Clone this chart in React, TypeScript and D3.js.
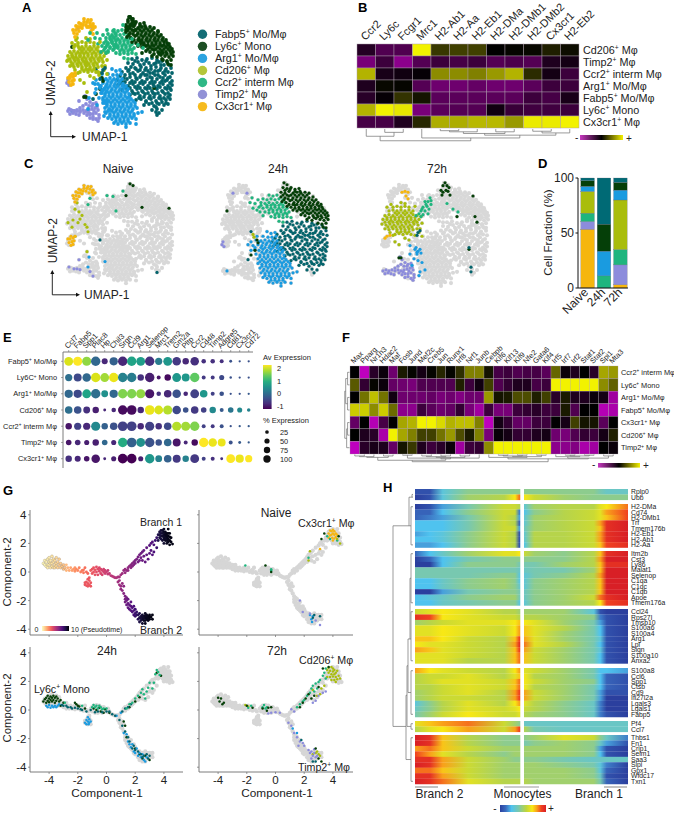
import React from "react";
import * as d3 from "d3";

// ---------- shared categories ----------
const clusterColors: Record<string, string> = {
  fabp5: "#04646c", ly6c: "#053f08", arg1: "#1a9be0", cd206: "#a9bd0c",
  ccr2: "#1fb57e", timp2: "#8c8cdc", cx3cr1: "#f6b60e",
};
const legendNames = ["Fabp5+ Mo/Mφ", "Ly6c+ Mono", "Arg1+ Mo/Mφ", "Cd206+ Mφ", "Ccr2+ interm Mφ", "Timp2+ Mφ", "Cx3cr1+ Mφ"];
const legendSwatch = ["#136d75", "#1d4f24", "#2ba3e0", "#b4c63a", "#2fb886", "#9191d6", "#f6bb1e"];

const fabp5H24 = [72,71,77,72,82,70,87,71,92,72,97,70,102,69,107,68,68,67,73,66,78,68,84,66,89,67,94,66,99,68,104,65,109,65,66,62,71,63,76,61,81,63,86,62,91,61,96,63,101,62,106,61,111,62,62,58,68,59,73,57,78,59,83,57,88,59,93,57,98,59,103,57,108,58,112,57,60,54,65,55,70,53,75,55,80,53,85,55,90,53,95,55,100,53,105,55,110,53,57,50,62,49,67,51,72,49,77,51,82,49,87,51,92,49,97,51,102,49,107,50,112,49,58,45,63,46,68,44,73,46,78,44,83,46,88,44,93,46,98,44,103,46,108,44,112,45,62,40,67,41,72,39,77,41,82,39,87,41,92,39,97,41,102,39,107,41,111,40,70,35,75,36,80,34,85,36,90,34,95,36,100,34,105,36,110,35,76,30,81,31,86,29,91,31,96,29,101,31,106,30,110,31,84,25,89,26,94,24,99,26,104,25,108,26,92,20,97,21,102,20,99,17,
  75,69,80,65,86,69,91,64,96,67,101,65,69,60,75,62,80,60,85,60,90,57,95,59,100,60,105,59,64,52,70,56,76,52,81,55,87,55,92,52,98,55,103,52,108,52,60,47,65,48,70,47,75,48,80,47,85,48,90,47,95,48,100,47,105,49,110,47,65,43,70,42,75,43,80,42,85,42,90,42,95,42,100,43,105,42,110,42,73,37,78,37,83,38,88,37,93,37,98,37,103,38,108,37,79,32,84,33,89,32,94,33,99,32,104,32,108,33,86,28,92,27,97,27,102,28,106,27];
const ly6cH24 = [69,113,72,111,68,108,72,107,76,108,80,106,84,107,66,103,70,102,74,104,78,102,82,103,86,102,90,103,94,102,66,98,70,97,74,99,78,97,82,98,86,97,90,98,94,97,98,98,67,93,71,92,75,94,79,92,83,93,87,92,91,93,95,92,99,93,103,92,72,88,76,87,80,89,84,87,88,88,92,87,96,88,100,87,104,88,107,87,78,84,82,83,86,84,90,83,94,84,98,83,102,84,106,83,110,83,86,79,90,78,94,80,98,78,102,79,106,78,110,79,113,78,92,74,97,73,101,75,105,74,109,73,113,74,103,70,107,69,111,70,108,66,111,65,
  70,105,75,106,80,104,85,104,68,100,72,100,76,100,80,100,84,100,88,100,92,100,69,95,73,96,77,95,81,95,85,95,89,95,93,95,97,95,101,95,74,90,78,90,82,90,86,90,90,90,94,90,98,90,102,90,106,90,80,86,84,85,88,85,92,85,96,86,100,85,104,85,108,85,88,81,92,81,96,81,100,81,104,81,108,81,112,81,94,76,99,76,103,77,107,76,111,76];
const arg1H24 = [52,61,56,59,60,60,42,56,48,56,53,55,57,55,61,56,36,50,41,52,46,51,50,52,54,51,58,52,62,51,33,47,38,46,43,47,47,46,51,47,55,46,59,47,63,46,36,41,40,42,44,41,48,42,52,41,56,42,60,41,64,42,68,41,41,37,45,36,49,37,53,36,57,37,61,36,65,37,69,36,43,32,47,31,51,32,55,31,59,32,63,31,67,32,71,31,43,27,47,26,51,27,55,26,59,27,63,26,67,27,71,26,75,27,45,22,49,21,53,22,57,21,61,22,65,21,69,22,73,21,77,22,46,17,50,16,54,17,58,16,62,17,66,16,70,17,74,16,78,17,48,12,52,11,56,12,60,11,64,12,68,11,72,12,76,11,54,7,58,6,62,7,66,6,70,7,82,18,76,6,66,3,
  44,50,48,49,52,49,56,49,60,49,40,44,46,44,50,44,54,44,58,44,62,44,66,44,47,39,51,39,55,39,59,39,63,39,67,39,45,34,49,34,53,34,57,34,61,34,65,34,69,33,45,29,49,29,53,29,57,29,61,29,65,29,69,29,73,29,47,24,51,24,55,24,59,24,63,24,67,24,71,24,75,24,48,19,52,19,56,19,60,19,64,19,68,19,72,19,50,14,54,14,58,14,62,14,66,14,70,14,74,14,56,9,60,9,64,9,68,9];
const ccr2H24 = [54,100,58,99,62,100,43,95,48,96,52,95,56,96,60,95,64,96,68,95,40,91,46,92,50,91,54,92,58,91,62,92,66,91,70,92,38,86,44,87,48,86,52,87,56,86,60,87,64,86,68,87,72,86,50,82,54,81,58,82,62,81,66,82,70,81,74,82,56,77,60,76,64,77,68,76,72,77,76,76,64,72,68,71,46,89,52,89,56,89,60,89,64,89,68,89,54,84,58,84,62,84,66,84,70,84,60,79,64,79,68,79,72,80,35,92,37,97,42,84,45,82,48,78];
const timp2H24 = [18,102,32,102,8,50,7,47,9,45];
const ly6cH24Stray = [12,83,42,52,43,49,40,41,36,36];
const cd206H24 = [38,58,39,55];
const fabp5H24Stray = [33,31,36,61];
const arg1H24Stray = [12,19];

const cd206H72 = [26,92,30,91,18,87,22,88,26,87,30,88,34,87,14,83,18,84,22,83,26,84,30,83,34,84,38,83,10,78,14,79,18,78,22,79,26,78,30,79,34,78,38,79,42,78,8,74,12,74,16,73,20,74,24,73,28,74,32,73,36,74,40,73,44,74,7,69,11,68,15,69,19,68,23,69,27,68,31,69,35,68,39,69,43,68,10,64,14,63,18,64,22,63,26,64,30,63,34,64,38,63,42,64,20,58,24,59,28,58,32,59,36,58,40,57,44,60,47,56,30,54,34,52,20,50,24,47,12,76,16,76,20,76,24,76,28,76,32,76,36,76,40,76,10,71,14,71,18,71,22,71,26,71,30,71,34,71,38,71,42,71,13,66,17,66,21,66,25,66,29,66,33,66,37,66,22,61,26,61,30,61,34,61,20,81,24,81,28,81,32,81,36,81,18,57,15,60,45,64,47,70,46,77,40,88,16,90,12,87];
const timp2H72 = [25,34,27,31,30,28,33,26,36,27,26,26,23,24,20,22,8,19,11,20,14,19,17,20,20,19,23,20,26,19,29,20,32,21,35,22,38,20,10,16,13,17,16,16,19,15,27,15,30,16,33,16,36,17,39,15,30,12,33,13,36,11,39,12,38,9,29,24,32,24,34,19,37,23,24,17,28,18];
const ccr2H72 = [55,97,53,93,50,93,56,90,52,88,48,87,54,85,50,83,46,83,44,80,48,79,53,80,41,78,46,77,72,91,78,85,83,82,51,90,47,85,56,94];
const ly6cH72 = [66,105,68,110,70,113,72,110,74,108,71,105,68,103,73,104,75,100,67,100,98,99,100,77,102,71,82,77,94,42,24,33,26,33];
const arg1H72 = [35,46,40,42,43,40,45,42,42,37,46,38,39,32,35,37,43,30,47,28,37,25,50,20,45,18,44,14,42,39,41,44];
const fabp5H72 = [43,60,45,62,94,44,96,23,96,18,42,57];
const cx3cr1H72 = [27,103,30,104,33,103,31,99,33,96,10,54,12,56,15,57];

const cx3cr1Naive = [15,93,14,97,16,100,18,103,21,106,24,108,27,108,30,107,32,104,33,101,19,99,22,102,26,105,29,103,17,96,20,103,23,105,24,111,28,110,31,110,33,106,35,103,13,100,16,104,19,107,10,52,13,53,9,48,12,49,15,55,13,46,11,45,8,52,11,55,14,50];
const cd206Naive = [17,92,15,85,19,82,22,78,20,74,18,70,13,73,8,70,12,65,25,68,28,60,27,65,15,55,27,38];
const ccr2Naive = [47,100,53,99,63,105,56,83,28,90,30,97];
const ly6cNaive = [70,113,73,111,66,100,82,87,109,86];
const fabp5Naive = [40,51,97,15];
const arg1Naive = [28,21,45,27,29,32];
const timp2Naive = [9,21,14,19,19,29,17,19,20,18,30,16,33,11];

type Entry = [string, number[]];
const umapNaive: Entry[] = [["cd206", cd206Naive], ["cx3cr1", cx3cr1Naive], ["ccr2", ccr2Naive], ["ly6c", ly6cNaive], ["fabp5", fabp5Naive], ["arg1", arg1Naive], ["timp2", timp2Naive]];
const umap24: Entry[] = [["ccr2", ccr2H24], ["fabp5", fabp5H24], ["ly6c", ly6cH24], ["arg1", arg1H24], ["timp2", timp2H24], ["ly6c", ly6cH24Stray], ["cd206", cd206H24], ["fabp5", fabp5H24Stray], ["arg1", arg1H24Stray]];
const umap72: Entry[] = [["cd206", cd206H72], ["timp2", timp2H72], ["ccr2", ccr2H72], ["ly6c", ly6cH72], ["arg1", arg1H72], ["fabp5", fabp5H72], ["cx3cr1", cx3cr1H72]];

// ---------- panel B ----------
const bGenes = ["Ccr2", "Ly6c", "Fcgr1", "Mrc1", "H2-Ab1", "H2-Aa", "H2-Eb1", "H2-DMa", "H2-DMb1", "H2-DMb2", "Cx3cr1", "H2-Eb2"];
const bRows = ["Cd206+ Mφ", "Timp2+ Mφ", "Ccr2+ interm Mφ", "Arg1+ Mo/Mφ", "Fabp5+ Mo/Mφ", "Ly6c+ Mono", "Cx3cr1+ Mφ"];
const bValues = [
  [-.18,-.4,-.4,.95,.22,.25,.25,0,.02,.03,.12,.05],
  [-.6,-.3,-.7,-.42,-.3,-.35,-.3,-.42,-.38,-.42,-.15,-.1],
  [.7,-.12,-.08,-.03,.55,.55,.5,.6,.7,.17,-.1,-.3],
  [-.15,.03,.02,-.42,-.55,-.55,-.5,-.55,-.55,-.45,-.3,-.3],
  [-.2,-.03,.2,.08,-.45,-.45,-.45,-.45,-.45,-.3,-.35,-.12],
  [.7,.95,.9,-.6,-.45,-.42,-.42,-.08,-.28,-.32,-.32,-.3],
  [-.35,-.35,-.15,.15,.68,.68,.72,.72,.6,.92,.92,.95],
];
const bTree = [[1.5,2.5,6,0,0],[.5,2,13,0,6],[4.5,5.5,3,0,0],[5,6.5,5,3,0],[7.5,8.5,5,0,0],[5.75,8,8,5,5],[9.5,10.5,4,0,0],[10,11.5,7,4,0],[6.9,10.75,11,8,7],[3.5,8.8,16,0,11],[1.25,6.15,21,13,16]];

// ---------- panel D ----------
const dConditions = ["Naive", "24h", "72h"];
const dOrder = ["cx3cr1", "timp2", "ccr2", "cd206", "arg1", "ly6c", "fabp5"];
const dNaive = [53.4, 7, 7.6, 19.8, 4.6, 5.2, 2.4];
const d24 = [0, 0, 11, 0, 22.5, 24.5, 42];
const d72 = [3, 18, 14, 45, 9, 7, 4];

// ---------- panel E ----------
const eGenes = ["Ccl7","Fabp5","Spp1","Plac8","Hp","Chil3","Srgn","Ccl9","Arg1","Selenop","Mrc1","Trem2","Gm2a","Pltp","Ccr2","Cd48","Timp2","Adgre5","Cd81","Cx3cr1","Cd72"];
const eRows = ["Fabp5+ Mo/Mφ","Ly6C+ Mono","Arg1+ Mo/Mφ","Cd206+ Mφ","Ccr2+ interm Mφ","Timp2+ Mφ","Cx3cr1+ Mφ"];
const eExpr = [
  [2.0,2.2,1.6,-.2,-1,-.3,-1,.7,.6,-.9,.1,.5,-.8,-1,-.9,-.9,-.9,-.9,-.5,-.5,-.5],
  [-.1,-.6,-.2,2.0,1.7,2.1,.2,.1,-.9,-1.1,-1.2,-1.3,.5,.5,1.3,-.8,-.8,-.6,-.5,-.5,-.5],
  [-.2,-.6,.7,-.1,.4,-.2,1.5,1.5,1.6,-1.2,-.9,-1,-.5,-1,-.7,.5,-.7,-.5,-.5,-.5,-.4],
  [-.1,-.5,-.9,-1.1,-1,-1,-1.3,-1.3,-1,2.1,2,1.8,-.6,-.5,-.8,-.7,.3,-.4,0,.3,.2],
  [-1.2,-.7,-1,.3,-.3,-.5,-.7,-.7,-1,-.7,-.9,-.6,1.8,1.7,1.5,-.7,-.8,-.5,-.5,-.4,-.4],
  [-1.2,-1,-1.1,-1.1,-.2,-1,.8,-.3,.4,-.5,-.5,-.2,-1.2,-1,-1.3,2.2,2.1,2.1,-.5,-.4,-.4],
  [-.9,-1,-1.2,-1.2,-1,-1.1,-1.4,-1.4,-1.1,.5,.2,-.3,-.8,.2,-.8,-.7,-.9,-.9,2.2,2.1,2.2],
];
const ePct = [
  [75,80,80,85,35,65,85,85,75,85,50,75,70,40,70,20,20,15,8,5,5],
  [50,60,70,85,75,85,85,85,40,85,15,40,75,60,85,15,15,25,6,5,5],
  [65,65,75,85,45,65,85,85,80,80,20,55,70,20,75,55,15,20,5,5,5],
  [55,55,45,40,8,20,85,90,40,90,75,80,70,30,55,30,40,15,30,25,12],
  [40,50,50,80,40,55,90,90,40,80,40,55,80,80,85,15,15,15,5,5,5],
  [30,30,25,40,30,25,85,90,75,85,40,55,60,15,40,85,70,60,15,8,5],
  [40,35,30,70,8,25,90,90,25,85,45,55,60,40,75,15,15,8,75,65,50],
];
const eSizeLegend = [25, 50, 75, 100];
const eColorTicks = [2, 1, 0, -1];

// ---------- panel F ----------
const fGenes = ["Max","Pparg","Nr1h3","Hdac2","Maf","Fosb","Jund","Mef2c","Creb5","Jun","Runx1","Irf8","Nrf1","Junb","Cebpb","Klf6","Klf13","Klf9","Nfe2","Gata6","Klf4","Irf5","Irf7","Irf2","Stat1","Stat2","Spi1","Mta3"];
const fRows = ["Ccr2+ interm Mφ","Ly6c+ Mono","Arg1+ Mo/Mφ","Fabp5+ Mo/Mφ","Cx3cr1+ Mφ","Cd206+ Mφ","Timp2+ Mφ"];
const fValues = [
  [0,-.95,-.2,-.05,-.55,.1,.02,-.1,.02,.15,.02,.18,.5,.5,.08,-.35,-.3,-.4,-.35,-.35,-.45,.4,-.05,-.15,0,-.2,.65,.6],
  [.35,-.25,.02,-.05,-.5,-.55,-.6,-.4,-.4,-.4,-.4,.12,-.3,-.08,.25,-.4,-.25,-.15,-.15,-.35,-.3,.95,.95,.95,.95,.95,.55,.38],
  [0,.45,.75,.45,-.08,-.55,-.55,-.55,-.5,-.6,-.55,-.65,-.55,-.55,.6,.08,.1,.3,.3,.12,.25,-.2,.1,-.15,-.15,-.05,-.1,-.8],
  [.8,.8,.55,.8,.42,-.7,-.7,-.3,-.45,-.55,-.5,-.25,-.6,-.8,-.3,-.6,-.6,-.3,-.25,-.2,-.3,-.3,.1,-.4,0,0,-.9,-.85],
  [-.5,0,-.9,-.35,0,.65,.7,.95,.95,.85,.7,.75,.75,.5,-.95,-.1,-.25,-.5,-.5,-.3,-.3,0,-.1,.25,.08,.08,-.45,0],
  [0,-.15,-.2,-.85,.95,.65,.5,.25,.25,.45,.6,.3,.1,.5,-.6,-.03,-.1,-.25,-.25,-.15,-.1,-.55,-.6,-.4,-.25,-.3,-.1,.12],
  [-.95,-.2,-.12,-.15,-.5,.08,.22,-.15,-.3,-.2,-.05,-.8,-.3,-.25,.55,.95,.95,.95,.95,.95,.95,-.7,-.7,-.65,-.85,-.8,0,-.05],
];
const fTopTree = [[.5,1.5,2,0,0],[1,2.5,3,2,0],[3.5,4.5,2,0,0],[1.75,4,4,3,2],[5.5,6.5,1,0,0],[7.5,8.5,2,0,0],[9.5,10.5,2,0,0],[8,10,3,2,2],[11.5,12.5,2,0,0],[9,12,4,3,2],[6,13.5,5,1,0],[9.5,10.5,6,5,4],[2.9,10,8,4,6],[15.5,16.5,1,0,0],[17.5,18.5,1,0,0],[19.5,20.5,1,0,0],[16,18,2,1,1],[17,20,3,2,1],[14.5,18.5,4,0,3],[22.5,23.5,1,0,0],[24.5,25.5,1,0,0],[23,25,2,1,1],[21.5,24,3,0,2],[26.5,27.5,2,0,0],[22.75,27,5,3,2],[16.5,24.9,6,4,5],[6.5,20.7,10,8,6]];
const fLeftTree = [[2.5,3.5,2,0,0],[4.5,5.5,2,0,0],[5,6.5,3,2,0],[.5,1.5,2,0,0],[1,3,4,2,2],[2,5.75,5,4,3]];

// ---------- panel G ----------
const trajLeft = [-4.4,.6,.2,-4.3,.5,.2,-4.3,.8,.3,-4.2,.4,.3,-4.2,.7,.3,-4.1,.9,.4,-4.1,.5,.4,-4.1,.3,.4,-4,.7,.4,-4,.5,.4,-4,1,.4,-3.9,.3,.5,-3.9,.6,.5,-3.9,.8,.5,-3.8,1.1,.5,-3.8,.4,.6,-3.8,.6,.6,-3.7,.9,.6,-3.7,.7,.6,-3.7,.3,.6,-3.6,.5,.7,-3.6,.8,.7,-3.6,.3,.7,-3.5,.6,.8,-3.5,.4,.8,-3.5,1,.8,-3.4,.7,.9,-3.4,.3,.9,-3.3,.5,1,-3.3,.9,1,-3.2,.3,1.1,-3.2,.6,1.1,-3.1,.4,1.2,-3,.2,1.3,-3,.5,1.3,-2.9,.3,1.4,-2.8,.5,1.5,-2.8,.1,1.6,-2.7,.3,1.7,-2.6,.1,1.8];
const trajTrail = [-2.5,.3,2,-2.4,.1,2.1,-2.3,.2,2.2,-2.2,.3,2.3,-2.2,.05,2.4,-2.1,.2,2.5,-2,.1,2.6,-1.9,.3,2.7,-1.8,0,2.8,-1.7,.1,2.9,-1.6,-.05,3,-1.6,.15,3,-1.5,.3,3.1,-1.4,0,3.2,-1.3,-.1,3.3];
const trajMid = [-1.1,.1,3.6,-1,-.1,3.7,-1,.2,3.7,-.9,.3,3.8,-.9,0,3.8,-.8,-.2,3.9,-.8,.15,3.9,-.7,.35,4,-.7,0,4,-.6,.2,4.1,-.6,-.2,4.1,-.5,.05,4.2,-.5,.3,4.2,-.4,-.1,4.3,-.4,.2,4.3,-.3,.1,4.4,-.3,-.2,4.4,-.2,0,4.5,-.2,.2,4.5,-.1,-.1,4.6,-.1,.1,4.6,0,0,4.7,.1,-.15,4.8,.2,-.1,4.9,.1,.1,4.8];
const trajTriangle = [-1.5,-.9,3.7,-1.4,-.7,3.7,-1.4,-.95,3.7,-1.3,-.5,3.7,-1.3,-.8,3.7,-1.3,-1,3.7,-1.2,-.6,3.7,-1.2,-.9,3.7,-1.1,-.75,3.7,-1.1,-1,3.7,-1.2,-.4,3.7,-1.5,-.75,3.7];
const trajJunction = [.3,-.25,5,.4,-.3,5.1,.5,-.35,5.2,.6,-.4,5.3,.7,-.4,5.4,.8,-.35,5.5,.9,-.35,5.6];
const trajBranch1 = [1,-.2,5.7,1.1,-.1,5.8,1.2,.1,5.9,1.3,-.05,5.9,1.3,.2,6,1.4,.1,6,1.5,.3,6.1,1.5,.1,6.1,1.6,.4,6.2,1.7,.3,6.2,1.7,.5,6.3,1.8,.6,6.4,1.8,.4,6.4,1.9,.7,6.5,1.9,.5,6.5,2,.8,6.6,2,.6,6.6,2.1,.9,6.7,2.2,1.05,6.8,2.2,.7,6.8,2.3,1.2,6.9,2.3,.8,6.9,2.4,1,7,2.4,1.3,7,2.5,1.4,7.1,2.5,.8,7.1,2.6,1.1,7.2,2.6,1.5,7.2,2.7,.7,7.3,2.8,1.7,7.4,2.8,1.2,7.4,2.9,.9,7.5,3,1.85,7.6,3,1.3,7.6,3.1,2,7.7,3.1,1.5,7.7,3.2,2.1,7.8,3.2,1.2,7.8,3.3,1.4,7.9,3.3,1.9,8,3.4,2.2,8.3,3.5,2.4,8.5,3.5,1.7,8.4,3.6,2.6,9,3.6,2.2,9,3.7,2.8,9.2,3.7,2.4,9.2,3.8,2.7,9.3,3.8,2.5,9.3,3.8,2.9,9.4,3.9,2.2,9.4,3.9,2.5,9.5,3.9,2.9,9.5,4,2,9.5,4,2.3,9.6,4,2.6,9.6,4,3,9.7,4.1,2.2,9.7,4.1,2.5,9.7,4.1,2.8,9.8,4.2,2,9.8,4.2,2.4,9.8,4.2,2.7,9.9,4.3,2.1,9.9,4.3,2.5,9.9,4.3,3,10,4.4,2.2,10,4.4,1.9,10,4.5,2.1,10,4.6,1.95,10,4.5,2.4,10,4.4,2.7,10,3.7,2.6,9.2,3.8,2.3,9.3,3.9,2.7,9.5,4,2.45,9.6,4,2.8,9.7,4.1,2.35,9.7,4.1,2.65,9.8,4.2,2.2,9.8,4.2,2.55,9.9,4.3,2.3,9.9,4.3,2.7,10,4.4,2.45,10];
const trajBranch2 = [.8,-.7,5.7,.9,-.9,5.8,.9,-.6,5.8,1,-1,5.9,1,-1.2,6,1.1,-.8,6,1.1,-1.3,6.2,1.2,-1.5,6.4,1.2,-1,6.3,1.3,-1.7,6.6,1.3,-1.9,6.7,1.3,-2.1,6.8,1.4,-1.8,6.8,1.4,-2,7,1.4,-2.3,7.1,1.5,-2.2,7.2,1.5,-1.9,7.2,1.5,-2.5,7.3,1.6,-2.3,7.4,1.6,-2.6,7.5,1.7,-2.1,7.5,1.7,-2.4,7.6,1.7,-2.7,7.7,1.8,-2.5,7.8,1.8,-2.8,7.9,1.9,-2.4,7.9,1.9,-2.7,8,1.9,-3,8.1,2,-2.6,8.2,2,-2.9,8.3,2,-3.1,8.4,2.1,-2.8,8.5,2.1,-3,8.6,2.2,-3,8.7,2.2,-3.3,8.8,2.3,-2.9,8.9,2.3,-3.2,9,2.3,-3.5,9.1,2.4,-3.1,9.2,2.4,-3.4,9.3,2.5,-3,9.4,2.5,-3.3,9.5,2.5,-3.6,9.5,2.6,-3.1,9.6,2.6,-3.4,9.6,2.7,-2.9,9.7,2.7,-3.2,9.7,2.7,-3.6,9.8,2.8,-3,9.8,2.8,-3.3,9.8,2.9,-3.1,9.9,2.9,-3.4,9.9,3,-3,10,3,-3.3,10,3.1,-3.15,10,3.2,-3,10,3.2,-3.3,10,2.4,-3.25,9.3,2.5,-3.15,9.5,2.6,-3.25,9.6,2.7,-3.05,9.7,2.7,-3.4,9.8,2.8,-3.15,9.8,2.9,-3.25,9.9,3,-3.15,10];
const trajAll = [trajLeft, trajTrail, trajMid, trajTriangle, trajJunction, trajBranch1, trajBranch2];

const gNaive: Entry[] = [
  ["cx3cr1", [3.7,2.7,3.8,2.9,3.9,2.6,3.9,2.85,4,2.7,4,2.95,4.1,2.6,4.1,2.85,4.2,2.7,4.2,2.45,3.95,2.4,4.1,2.35,4.3,2.6,3.7,2.4,3.8,2.55,4,2.2,3.1,1.6]],
  ["ccr2", [3.6,2.5,3.8,2.3,4.3,2.2,-2.1,.45,2.3,1,-.3,.1,-.3,.2]],
  ["ly6c", [-.7,.45,3.4,2.7,3.2,2.3,4.4,2.5,-.3,0]],
  ["arg1", [2.4,-3,2.5,-3.3,2.6,-3.1,2.55,-3.5]],
  ["timp2", [1.7,-2,1.9,-2.8,2.8,-3.4,3.1,-3.7,2.4,-2.9]],
  ["cd206", [2.4,1.45,2.3,.8,4.5,2,4.3,2.3]],
  ["fabp5", [2.6,-3.2,2.7,-3,3.1,-3.1]],
];
const g24: Entry[] = [
  ["ly6c", [-4.4,.6,-4.3,.75,-4.2,.5,-4.2,.85,-4.1,.65,-4.1,1,-4,.55,-4,.8,-3.9,.95,-3.9,.7,-3.8,.6,-3.8,.85,-3.7,1,-3.7,.7,-3.6,.5,-3.6,.85,-3.5,.65,-3.5,.95,-3.4,.8,-3.3,.6,-3.2,.7,-3,.5,-2.2,.5,-2.1,.4,-2,.3,-1.9,.25,-1.5,.1,-.9,.1,-.7,0,-.5,.15,-.4,-.1,-.2,-.2,-.1,.05,.2,-.2,1.2,-.8,1.3,-1.1,1.4,-1.9,2,-2.7,2.3,-3.1,2.5,-3.4,2.7,-3.2,3,-3.5,1.6,.2,2,.6,2.3,.9,3.5,2.6,3.8,2.4,-3.2,.3]],
  ["arg1", [-4.2,.3,-4.1,.2,-4,.35,-3.9,.15,-3.8,.3,-3.7,.2,-3.6,.3,-3.5,.2,-3.4,.3,-3.3,.4,-1.5,-.9,-1.4,-.7,-1.4,-1,-1.3,-.5,-1.3,-.8,-1.25,-1,-1.2,-.65,-1.2,-.9,-1.1,-.8,1.2,-1.6,1.4,-1.7,1.5,-2.2,1.6,-2.4,1.7,-2.6,1.8,-2.4,1.9,-2.9,2,-3,2.1,-2.7,2.2,-3.2,2.3,-3,2.4,-3.3,2.5,-3.1,2.6,-3.5,2.7,-3.6,2.8,-3.3,1,-.2,.7,-.4]],
  ["fabp5", [-3.1,.35,-3,.3,-2.8,.3,-2.7,.2,-2.5,.2,-2.4,.1,-2.2,.15,-2,.1,-1.8,.05,-1.7,0,-1.4,-.1,-1.1,0,-.8,-.15,-.6,-.1,-.3,-.15,0,-.1,.2,-.1,.4,-.3,.6,-.4,.9,-.7,1.1,-1.1,1.3,-1.5,1.5,-1.9,1.6,-2.2,1.8,-2.7,1.9,-2.5,2,-2.8,2.2,-2.9,2.4,-3.1,2.5,-3.3,2.6,-3.2,2.8,-3.1,2.9,-3.4,3,-3.2,1.1,-.1,1.3,.1,1.5,.2,1.7,.4]],
  ["ccr2", [-1,.2,-.9,.35,-.8,.2,-.7,.3,-.6,.1,-.5,.3,-.4,.2,-.3,.05,-.2,.1,0,.1,1.4,.1,1.6,.4,1.8,.5,2,.8,2.2,1,2.4,1.2,2.5,1.45,2.6,1.1,2.7,.8,2.8,1.3,2.9,1.55,3,1.9,3.2,1.5,3.4,2.5,3.5,2.8,3.6,2.65,3.7,2.45,3.3,1.9,-1.7,.3,-2.9,.5]],
];
const g72: Entry[] = [
  ["cd206", [3.6,2.8,3.7,2.6,3.7,2.95,3.8,2.3,3.8,2.75,3.9,2.5,3.9,3,3.9,2.1,4,2.7,4,2.35,4,2.9,4.1,2.5,4.1,2.1,4.1,2.8,4.2,2.3,4.2,2.6,4.2,1.95,4.3,2.75,4.3,2.15,4.4,2.4,4.5,2.2,3.6,2.3,3.4,1.7,3.2,1.5,3.1,1.1,2.9,1,2.6,1.4,-2.1,.35,-1.9,.25,2.6,-3.1,2.8,-3,2.9,-2.9,3,-3.1,3.1,-3.2]],
  ["ccr2", [2,.7,2.2,1,2.4,1.2,2.5,1.5,2.6,1.7,2.7,1.3,2.8,1.85,2.9,1.5,3,1.95,3.1,2.1,3.3,2.4,3.4,2.6,3.5,2.9,3.5,2.2,-1.9,.15,-1.7,.3,-.9,.2,-.8,.35,-.7,.1,-.6,.2,1.5,.2,1.7,.4,1.9,.6]],
  ["timp2", [1.1,.05,1.3,-.1,.9,-.9,1.1,-1.1,1.3,-1.6,1.5,-1.9,1.7,-2.2,1.6,-2.5,1.9,-2.3,2,-2.5,2.3,-2.8,2.4,-3,2.5,-2.9,2.6,-3.2,2.7,-3,2.8,-3.3,2.5,-3.4,2.9,-3.2,2.7,-2.75,-.3,-.2,0,-.15,-.5,-.25,.3,-.2,2.6,.5,2.8,.65,3,1,3.3,1.2,3.5,1.3]],
  ["ly6c", [-4,.85,-3.9,.6,-3.8,.8,-3.6,.5,-3.7,.4,-2,.3,-1.6,.15,-.9,.1,-.6,-.05,-.5,.15,-.3,.2,1.7,.2,1.9,.5,2.1,.8,2.3,1.1,2.5,.8,2.7,1,3,1.6,3.2,-3.6,3,-3.4,2.8,-2.7,3.3,2.9,3.7,3]],
  ["fabp5", [1.8,-2.1,2.6,-3.6,2.8,-3.6]],
  ["arg1", [1.2,-1.3,1.5,-1.6]],
];
const gYTicks = [-4, -2, 0, 2, 4];
const gXTicks = [-4, -2, 0, 2, 4];

// ---------- panel H: smoothed expression along pseudotime, in tenths ----------
const hStops = [0,.07,.13,.25,.42,.47,.49,.51,.56,.70,.84,.87,.90,1];
const hBlocks: [number, string[], number[][]][] = [
  [489, ["Rplp0","Ubb"], [
    [-9,-9,-4,-1,-1,-1,-1,-1,-1,-1,-1,-2,-3,-3],
    [-10,-9,-4,0,1,4,7,4,2,0,-1,-1,-1,-1]]],
  [504, ["H2-DMa","Cd74","H2-DMb1","Trf","Tmem176b","H2-Eb1","H2-Ab1","H2-Aa"], [
    [-10,-9,-6,-2,2,2,1,-4,0,1,1,3,4,7],
    [-8,-8,-5,-1,2,2,-7,-5,-1,1,2,3,6,8],
    [-8,-7,-6,-2,2,1,-6,-4,0,1,2,3,5,8],
    [-5,-5,-5,-2,2,1,-8,-4,0,1,2,6,9,10],
    [-5,-5,-5,-2,2,2,-6,-3,0,1,2,5,9,10],
    [-6,-5,-4,-1,2,1,-9,-4,1,1,2,6,9,10],
    [-5,-5,-4,-1,2,1,-9,-4,1,1,2,6,9,10],
    [-6,-6,-5,-1,2,1,-9,-5,1,1,2,5,8,9]]],
  [551, ["Itm2b","Cst3","Ly86","Malat1","Selenop","C1qa","C1qc","C1qb","Apoe","Tmem176a"], [
    [-8,-5,-3,0,3,3,4,2,0,-1,1,5,9,10],
    [-10,-8,-5,-2,-1,-1,-1,-1,-1,-1,1,6,10,10],
    [-10,-10,-5,-1,-1,-1,-2,-2,-2,0,1,5,9,9],
    [-2,-2,-2,-2,-2,-2,-3,-3,-2,-2,0,5,10,10],
    [-2,-2,-2,-2,-1,-1,-4,-4,-2,-1,1,6,10,10],
    [-5,-5,-3,-1,0,-1,-4,-4,-1,0,1,5,10,10],
    [-5,-5,-3,-1,0,-1,-3,-4,-1,0,1,5,10,10],
    [-10,-10,-6,-2,-1,-1,-2,-3,-1,0,1,5,10,10],
    [-5,-4,-3,-1,0,0,-2,-3,-1,0,2,7,9,10],
    [-5,-5,-3,-2,-1,-1,-4,-4,-1,0,1,4,8,9]]],
  [609, ["Ccl24","Rps27l","Tmsb10","S100a6","S100a4","Arg1","Lpl","Sign","S100a10","Anxa2"], [
    [2,3,4,3,1,1,0,0,0,0,-4,-9,-10,-10],
    [9,8,4,3,2,2,1,1,1,0,-1,-7,-9,-10],
    [0,1,2,3,3,4,5,4,3,0,-2,-6,-9,-10],
    [3,3,4,3,2,4,6,5,3,1,-2,-5,-9,-10],
    [3,3,4,3,2,4,6,5,3,0,-2,-5,-9,-10],
    [5,5,4,2,1,5,8,6,3,0,-2,-4,-9,-10],
    [4,3,3,2,1,6,9,7,3,1,-2,-5,-9,-10],
    [6,5,3,2,1,5,8,6,2,0,-2,-4,-9,-10],
    [3,3,3,2,1,5,7,5,2,0,-2,-5,-9,-10],
    [3,3,3,1,1,5,7,5,2,0,-2,-5,-9,-10]]],
  [668, ["S100a8","Ccl6","Spp1","Ctsb","Cd9","Ifi27l2a","Lgals3","Lgals1","Fabp5"], [
    [6,4,3,2,1,4,6,3,2,0,-2,-5,-5,-6],
    [1,2,2,3,1,3,5,4,1,0,-2,-5,-8,-9],
    [1,2,3,3,2,5,7,4,2,0,-1,-5,-8,-9],
    [1,1,2,3,2,5,7,4,1,0,-2,-5,-8,-9],
    [0,1,2,3,1,6,8,6,2,0,-2,-6,-9,-9],
    [0,1,2,2,1,6,8,6,2,0,-2,-6,-10,-10],
    [-4,-1,1,3,1,4,6,3,1,-1,-3,-7,-10,-10],
    [-3,-1,1,3,2,3,4,2,1,-1,-3,-7,-10,-10],
    [-2,0,2,4,2,2,3,1,0,-1,-3,-7,-9,-10]]],
  [721, ["Pf4","Ccl7"], [
    [3,5,6,7,2,0,-1,-3,-3,-3,-3,-3,-3,-3],
    [1,3,4,6,2,6,8,1,-2,-3,-3,-3,-3,-3]]],
  [735, ["Thbs1","Fn1","Crip1","Selm1","Saa3","Slpi","Gpx1","Wfdc17","Txn1"], [
    [10,9,5,1,-1,-1,-1,-1,0,3,2,-1,-3,-7],
    [10,9,5,1,-1,-1,-1,-2,-1,0,-1,-3,-6,-9],
    [6,7,5,2,0,0,0,0,0,0,-1,-6,-9,-10],
    [8,6,3,1,-1,0,0,0,0,0,-1,-5,-9,-10],
    [9,9,6,2,0,-1,-1,-1,-1,-2,-3,-3,-3,-3],
    [10,9,6,2,0,0,0,0,0,-1,-2,-4,-7,-10],
    [7,7,5,2,0,0,0,0,0,0,-1,-4,-8,-10],
    [9,9,6,2,0,0,0,0,0,0,-1,-3,-9,-10],
    [10,9,7,3,1,1,1,1,0,0,0,-2,-8,-10]]],
];
const hTree = [[0.5,1,1,0,0],[2,9,2,0,0],[10,19,2,0,0],[20,29,2,0,0],[30,38,2,0,0],[39,40,2,0,0],[41,49,2,0,0],[1,5.5,4,1,2],[14.5,25,3,2,2],[25,34,5,3,2],[29.5,39.5,6,5,2],[34.5,45,7,6,2],[5.5,39.5,20,4,7]];

// ---------- scales and helpers ----------
const heat = d3.scaleLinear<string>().domain([-1, 0, 1]).range(["#c800c8", "#000000", "#ffff00"]);
const jet = d3.scaleLinear<string>()
  .domain([-10, -7.5, -5, -2, 1.5, 4, 6, 8, 10])
  .range(["#2b3f9e", "#3a6cc0", "#4fc3ef", "#78c8b0", "#c0d63a", "#f8e815", "#f9a01a", "#f04020", "#d81f26"]);
const viridis = d3.scaleSequential(d3.interpolateViridis).domain([-1.4, 2.2]);
const FONT = "'Liberation Sans', Arial, sans-serif";
const INK = "#222";
const AXIS = "#6e6e6e";

function chunk(flat: number[], n: number) {
  const out: number[][] = [];
  for (let i = 0; i + n <= flat.length; i += n) out.push(flat.slice(i, i + n));
  return out;
}

function Sup({ text, x, y, size, anchor, transform, fill = INK }: any) {
  const parts = text.split("+");
  const common: any = { x, y, fontSize: size, fontFamily: FONT, fill, textAnchor: anchor, transform };
  if (parts.length < 2) return <text {...common}>{text}</text>;
  return (
    <text {...common}>
      {parts[0]}
      <tspan dy={-size * 0.35} fontSize={size * 0.62}>+</tspan>
      <tspan dy={size * 0.35}>{parts[1]}</tspan>
    </text>
  );
}

function T({ x, y, size, children, anchor, bold, rotate, fill = INK }: any) {
  return (
    <text x={x} y={y} fontSize={size} fontFamily={FONT} fill={fill} textAnchor={anchor}
      fontWeight={bold ? 700 : 400} transform={rotate ? `rotate(${rotate} ${x} ${y})` : undefined}>
      {children}
    </text>
  );
}

function Heatmap({ x0, x1, y0, y1, values, colLabels, rowLabels, colSize, rowSize, rowX, labelY, gridW }: any) {
  const xs = d3.scaleBand<number>().domain(d3.range(colLabels.length)).range([x0, x1]);
  const ys = d3.scaleBand<number>().domain(d3.range(rowLabels.length)).range([y0, y1]);
  return (
    <g>
      {values.map((row: number[], r: number) => row.map((v, c) => (
        <rect key={`${r}-${c}`} x={xs(c)} y={ys(r)} width={xs.bandwidth()} height={ys.bandwidth()}
          fill={heat(v)} stroke="#a89aa8" strokeWidth={gridW} />
      )))}
      {colLabels.map((g: string, c: number) => {
        const x = xs(c)! + xs.bandwidth() * 0.5 - 1;
        return <T key={g} x={x} y={labelY} size={colSize} rotate={-45}>{g}</T>;
      })}
      {rowLabels.map((g: string, r: number) => (
        <Sup key={g} text={g} x={rowX} y={ys(r)! + ys.bandwidth() * 0.5 + rowSize * 0.36} size={rowSize} />
      ))}
    </g>
  );
}

function Tree({ links, pos, depth }: { links: number[][]; pos: (v: number) => number[]; depth: (d: number) => number }) {
  const p = d3.path();
  links.forEach(([a, b, h, ha, hb]) => {
    const [xa, ya] = pos(a);
    const [xb, yb] = pos(b);
    const horizontal = ya === yb;
    if (horizontal) {
      p.moveTo(xa, depth(ha)); p.lineTo(xa, depth(h)); p.lineTo(xb, depth(h)); p.lineTo(xb, depth(hb));
    } else {
      p.moveTo(depth(ha), ya); p.lineTo(depth(h), ya); p.lineTo(depth(h), yb); p.lineTo(depth(hb), yb);
    }
  });
  return <path d={p.toString()} fill="none" stroke="#707070" strokeWidth={0.7} />;
}

function UmapPanel({ sx, sy, entries, background, r, greyR }: any) {
  const x = d3.scaleLinear().domain([0, 120]).range(sx);
  const y = d3.scaleLinear().domain([0, 115]).range(sy);
  return (
    <g>
      {background && background.map(([, flat]: Entry, i: number) =>
        chunk(flat, 2).map(([a, b], j) => <circle key={`g${i}-${j}`} cx={x(a)} cy={y(b)} r={greyR} fill="#d8d8d8" />))}
      {entries.map(([k, flat]: Entry, i: number) =>
        chunk(flat, 2).map(([a, b], j) => <circle key={`c${i}-${j}`} cx={x(a)} cy={y(b)} r={r} fill={clusterColors[k]} />))}
    </g>
  );
}

function UmapAxes({ cx, cy, up, right, lx, ly, l2x, l2y }: any) {
  return (
    <g>
      <path d={`M${cx} ${up + 3}V${cy}H${right - 3}`} fill="none" stroke="#111" strokeWidth={0.9} />
      <path d={`M${cx} ${up}l-2 4h4z`} fill="#111" />
      <path d={`M${right} ${cy}l-4 -2v4z`} fill="#111" />
      <T x={lx} y={ly} size={12}>UMAP-1</T>
      <T x={l2x} y={l2y} size={12} anchor="middle" rotate={-90}>UMAP-2</T>
    </g>
  );
}

function TrajPanel({ x0, y0, left, bottom, right, top, xLabels, yLabels, g }: any) {
  const sx = d3.scaleLinear().domain([0, 1]).range([x0, x0 + 14.35]);
  const sy = d3.scaleLinear().domain([0, 1]).range([y0, y0 - 14.3]);
  return (
    <g>
      <path d={`M${left} ${top}V${bottom}H${right}`} fill="none" stroke={AXIS} strokeWidth={0.9} />
      {gXTicks.map((t) => <line key={t} x1={sx(t)} x2={sx(t)} y1={bottom} y2={bottom + 2} stroke={AXIS} strokeWidth={0.7} />)}
      {gYTicks.map((t) => <line key={t} x1={left - 2} x2={left} y1={sy(t)} y2={sy(t)} stroke={AXIS} strokeWidth={0.7} />)}
      {xLabels && gXTicks.map((t) => <T key={t} x={sx(t)} y={bottom + 11.5} size={11.5} anchor="middle">{t}</T>)}
      {yLabels && gYTicks.map((t) => <T key={t} x={left - 3.5} y={sy(t) + 4} size={11.5} anchor="end">{t}</T>)}
      {g(sx, sy)}
    </g>
  );
}

function grayTraj(sx: any, sy: any) {
  return trajAll.map((seg, i) => chunk(seg, 3).map(([a, b], j) => (
    <circle key={`t${i}-${j}`} cx={sx(a)} cy={sy(b)} r={2.1} fill="#d6d6d6" />
  )));
}
function overlayTraj(entries: Entry[], sx: any, sy: any) {
  return entries.map(([k, flat], i) => chunk(flat, 2).map(([a, b], j) => (
    <circle key={`o${i}-${j}`} cx={sx(a)} cy={sy(b)} r={1.25} fill={clusterColors[k]} />
  )));
}

export default function App() {
  const dX = d3.scaleBand().domain(dConditions).range([580, 628]).paddingInner(0.17).paddingOuter(0.05);
  const dY = d3.scaleLinear().domain([0, 100]).range([288, 178]);
  const dSeries = [dNaive, d24, d72];
  const eX = d3.scalePoint().domain(eGenes).range([68.7, 248.7]);
  const eY = d3.scalePoint().domain(eRows).range([361.3, 458.7]);
  const eR = d3.scaleSqrt().domain([0, 100]).range([0, 5.1]);
  const hX = d3.scaleLinear().domain([0, 1]).range([415, 628]);
  const rowH = 5.45;
  const rowYs: number[] = [];
  hBlocks.forEach(([top, names]) => names.forEach((_, i) => rowYs.push(top + (i + 0.5) * rowH)));
  const hRowPos = d3.scaleLinear().domain(d3.range(rowYs.length)).range(rowYs);
  const allUmap = [...umap24, ...umap72, ...umapNaive];

  return (
    <svg width={674} height={813} style={{ position: "absolute", left: 0, top: 0, background: "#fff" }}>
      <defs>
        {hBlocks.flatMap(([, names, vals], b) => names.map((n, i) => (
          <linearGradient key={n} id={`h${b}-${i}`} x1="0" x2="1" y1="0" y2="0">
            {hStops.map((s, k) => <stop key={k} offset={s} stopColor={jet(vals[i][k])} />)}
          </linearGradient>
        )))}
        <linearGradient id="lgHeat"><stop offset="0" stopColor="#c838c0" /><stop offset=".5" stopColor="#000" /><stop offset="1" stopColor="#f4f000" /></linearGradient>
        <linearGradient id="lgVir" x1="0" x2="0" y1="1" y2="0">
          {d3.range(0, 1.01, 0.125).map((t) => <stop key={t} offset={t} stopColor={d3.interpolateViridis(t)} />)}
        </linearGradient>
        <linearGradient id="lgPseudo">
          {d3.range(0, 1.01, 0.125).map((t) => <stop key={t} offset={t} stopColor={d3.interpolateMagma(1 - t)} />)}
        </linearGradient>
        <linearGradient id="lgJet">
          {[-10, -7.5, -5, -2, 1.5, 4, 6, 8, 10].map((v) => <stop key={v} offset={(v + 10) / 20} stopColor={jet(v)} />)}
        </linearGradient>
      </defs>

      {/* panel letters */}
      {[["A", 22, 12], ["B", 358, 12], ["C", 24, 168], ["D", 538, 168], ["E", 3, 342], ["F", 342, 342], ["G", 3, 495], ["H", 383, 492]].map(([l, x, y]) => (
        <T key={l as string} x={x} y={y} size={13} bold fill="#000">{l}</T>
      ))}

      {/* A */}
      <UmapPanel sx={[60, 180]} sy={[130, 15]} entries={allUmap} r={1.9} />
      {legendNames.map((n, i) => (
        <g key={n}>
          <circle cx={202.5} cy={34.3 + i * 12.05} r={4.7} fill={legendSwatch[i]} />
          <Sup text={n} x={215} y={34.3 + i * 12.05 + 3.7} size={10.8} />
        </g>
      ))}
      <UmapAxes cx={50.7} cy={136.7} up={111} right={76} lx={82} ly={141} l2x={55} l2y={83} />

      {/* B */}
      <Heatmap x0={357} x1={579} y0={44} y1={128} values={bValues} colLabels={bGenes} rowLabels={bRows} colSize={11} rowSize={10.8} rowX={583} labelY={41} gridW={0.45} />
      <Tree links={bTree} pos={(v) => [d3.scaleLinear().domain([0, 12]).range([357, 579])(v), 0]} depth={(d) => 129 + d * 0.56} />
      <rect x={580} y={135} width={43} height={5} fill="url(#lgHeat)" />
      <T x={575} y={141} size={10}>-</T>
      <T x={626} y={141.5} size={10}>+</T>

      {/* C */}
      <UmapPanel sx={[60, 180]} sy={[286, 182]} background={allUmap} entries={umapNaive} r={1.6} greyR={2.05} />
      <UmapPanel sx={[215, 335]} sy={[288.7, 181]} background={allUmap} entries={umap24} r={1.6} greyR={2.05} />
      <UmapPanel sx={[375, 495]} sy={[288.7, 181]} background={allUmap} entries={umap72} r={1.6} greyR={2.05} />
      <T x={118} y={173} size={12} anchor="middle">Naive</T>
      <T x={278} y={173} size={12} anchor="middle">24h</T>
      <T x={437} y={173} size={12} anchor="middle">72h</T>
      <UmapAxes cx={52.3} cy={294.8} up={270} right={80} lx={84} ly={299} l2x={57} l2y={240.7} />

      {/* D */}
      {dConditions.map((c, ci) => {
        let acc = 0;
        return dOrder.map((k, ki) => {
          const v = dSeries[ci][ki];
          const y1 = dY(acc);
          acc += v;
          return v > 0 ? (
            <rect key={c + k} x={dX(c)} width={dX.bandwidth()} y={dY(acc)} height={y1 - dY(acc)} fill={clusterColors[k] === "#04646c" ? "#006a75" : clusterColors[k]} stroke="#667" strokeWidth={0.25} />
          ) : null;
        });
      })}
      <path d={`M578 178V288H628`} fill="none" stroke="#111" strokeWidth={1} />
      {[0, 50, 100].map((t) => (
        <g key={t}>
          <line x1={575.5} x2={578} y1={dY(t)} y2={dY(t)} stroke="#111" strokeWidth={1} />
          <T x={574} y={dY(t) + 4.2} size={12} anchor="end">{t}</T>
        </g>
      ))}
      {dConditions.map((c, i) => (
        <T key={c} x={[589, 606, 623][i]} y={293} size={12} anchor="end" rotate={-45}>{c}</T>
      ))}
      <T x={552} y={232.5} size={11.6} anchor="middle" rotate={-90}>Cell Fraction (%)</T>

      {/* E */}
      <path d={`M253 352H63V468`} fill="none" stroke={AXIS} strokeWidth={0.9} />
      {eGenes.map((g) => (
        <g key={g}>
          <line x1={eX(g)} x2={eX(g)} y1={350} y2={352} stroke={AXIS} strokeWidth={0.6} />
          <T x={eX(g)! - 1} y={349} size={7.6} rotate={-45}>{g}</T>
        </g>
      ))}
      {eRows.map((g, r) => (
        <g key={g}>
          <line x1={61} x2={63} y1={eY(g)} y2={eY(g)} stroke={AXIS} strokeWidth={0.6} />
          <Sup text={g} x={57} y={eY(g)! + 2.7} size={7.4} anchor="end" />
          {eExpr[r].map((v, c) => (
            <circle key={c} cx={eX(eGenes[c])} cy={eY(g)} r={eR(ePct[r][c])} fill={viridis(v)} />
          ))}
        </g>
      ))}
      <T x={263} y={360} size={7.5}>Av Expression</T>
      <rect x={263} y={365} width={8.6} height={44} fill="url(#lgVir)" />
      {eColorTicks.map((t, i) => <T key={t} x={277} y={[371, 384, 396, 409][i]} size={7.4}>{t}</T>)}
      <T x={263} y={423} size={7.5}>% Expression</T>
      {eSizeLegend.map((s, i) => (
        <g key={s}>
          <circle cx={267} cy={432 + i * 9} r={eR(s) * 0.72} fill="#111" />
          <T x={280} y={434.7 + i * 9} size={7.4}>{s}</T>
        </g>
      ))}

      {/* F */}
      <Heatmap x0={350} x1={618} y0={366} y1={454} values={fValues} colLabels={fGenes} rowLabels={fRows} colSize={7.4} rowSize={7.4} rowX={621} labelY={364} gridW={0.3} />
      <Tree links={fTopTree} pos={(v) => [d3.scaleLinear().domain([0, 28]).range([350, 618])(v), 0]} depth={(d) => 454.5 + d * 0.72} />
      <Tree links={fLeftTree} pos={(v) => [0, d3.scaleLinear().domain([0, 7]).range([366, 454])(v)]} depth={(d) => 349.5 - d * 0.95} />
      <rect x={598} y={463} width={42} height={4.6} fill="url(#lgHeat)" />
      <T x={592} y={468} size={10}>-</T>
      <T x={643} y={468.5} size={10}>+</T>

      {/* G */}
      <TrajPanel x0={106.5} y0={572} left={30} right={183} top={510} bottom={635} yLabels g={(sx: any, sy: any) => (
        <g>
          {trajAll.map((seg, i) => chunk(seg, 3).map(([a, b, t], j) => (
            <circle key={`${i}-${j}`} cx={sx(a)} cy={sy(b)} r={1.45} fill={d3.interpolateMagma(1 - t / 10.4)} stroke="#5a4a40" strokeWidth={t < 1.5 ? 0.2 : 0} />
          )))}
        </g>
      )} />
      <rect x={42} y={626} width={27} height={5} fill="url(#lgPseudo)" />
      <T x={34.5} y={632} size={7}>0</T>
      <T x={71} y={632} size={7}>10 (Pseudotime)</T>
      <T x={161} y={526} size={10.5} anchor="middle">Branch 1</T>
      <T x={161} y={634} size={10.5} anchor="middle">Branch 2</T>

      <TrajPanel x0={275.5} y0={572} left={199} right={353} top={510} bottom={635} g={(sx: any, sy: any) => (
        <g>{grayTraj(sx, sy)}{overlayTraj(gNaive, sx, sy)}</g>
      )} />
      <T x={276} y={517} size={12} anchor="middle">Naive</T>
      <Sup text="Cx3cr1+ Mφ" x={298} y={527} size={10.7} />

      <TrajPanel x0={106.5} y0={710} left={30} right={183} top={647} bottom={772} xLabels yLabels g={(sx: any, sy: any) => (
        <g>{grayTraj(sx, sy)}{overlayTraj(g24, sx, sy)}</g>
      )} />
      <T x={107} y={655} size={12} anchor="middle">24h</T>
      <Sup text="Ly6c+ Mono" x={34} y={693} size={10.7} />

      <TrajPanel x0={275.5} y0={710} left={199} right={353} top={647} bottom={772} xLabels g={(sx: any, sy: any) => (
        <g>{grayTraj(sx, sy)}{overlayTraj(g72, sx, sy)}</g>
      )} />
      <T x={277} y={655} size={12} anchor="middle">72h</T>
      <Sup text="Cd206+ Mφ" x={299} y={664} size={10.7} />
      <Sup text="Timp2+ Mφ" x={298} y={771} size={10.7} />

      <T x={11} y={572} size={11.4} anchor="middle" rotate={-90}>Component-2</T>
      <T x={11} y={708} size={11.4} anchor="middle" rotate={-90}>Component-2</T>
      <T x={107} y={797} size={11.8} anchor="middle">Component-1</T>
      <T x={277} y={797} size={11.8} anchor="middle">Component-1</T>

      {/* H */}
      {hBlocks.map(([top, names], b) => names.map((n, i) => (
        <g key={n}>
          <rect x={hX(0)} y={top + i * rowH} width={hX(1) - hX(0)} height={rowH + 0.2} fill={`url(#h${b}-${i})`} />
          <T x={631} y={top + (i + 0.5) * rowH + 2.4} size={6.8}>{n}</T>
        </g>
      )))}
      <rect x={520.3} y={485} width={3.7} height={300} fill="#fff" />
      <Tree links={hTree} pos={(v) => [0, hRowPos(v)]} depth={(d) => 413 - d} />
      <line x1={415} x2={438} y1={787} y2={787} stroke="#999" strokeWidth={1.2} />
      <line x1={504} x2={539} y1={787} y2={787} stroke="#999" strokeWidth={1.2} />
      <line x1={604} x2={627} y1={787} y2={787} stroke="#999" strokeWidth={1.2} />
      <T x={439.5} y={798} size={12} anchor="middle">Branch 2</T>
      <T x={522.5} y={798} size={12} anchor="middle">Monocytes</T>
      <T x={599} y={798} size={12} anchor="middle">Branch 1</T>
      <rect x={500} y={805} width={46} height={7} fill="url(#lgJet)" />
      <T x={495} y={812} size={10} anchor="middle">-</T>
      <T x={551} y={812} size={10} anchor="middle">+</T>
    </svg>
  );
}
